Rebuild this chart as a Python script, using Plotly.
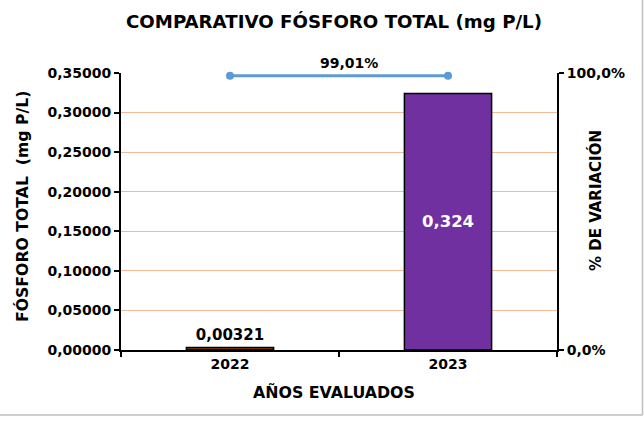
import plotly.graph_objects as go

years = ["2022", "2023"]
fosforo = [0.00321, 0.324]
bar_labels = ["0,00321", "0,324"]
variacion = [0.9901, 0.9901]
variacion_label = "99,01%"
left_ticks = [0, 0.05, 0.10, 0.15, 0.20, 0.25, 0.30, 0.35]
right_ticks = [0, 1]
right_ticktext = ["0,0%", "100,0%"]

FONT = "DejaVu Sans, Verdana, sans-serif"
W, H = 644, 424
ml, mr, mt, mb = 121, 87, 73, 74

def bold(size, color="#000000"):
    return dict(family=FONT, size=size, color=color, weight="bold")

fig = go.Figure()
fig.add_trace(go.Bar(
    x=years, y=fosforo, width=0.4,
    marker=dict(color=["#843C0C", "#7030A0"], line=dict(color="#000000", width=1.5)),
    text=bar_labels, textposition=["outside", "inside"], insidetextanchor="middle",
    textfont=dict(family=FONT, size=[15, 16.5], color=["#000000", "#FFFFFF"], weight="bold"),
    cliponaxis=False, showlegend=False, hoverinfo="skip",
))
fig.add_trace(go.Scatter(
    x=years, y=variacion, yaxis="y2", mode="lines+markers",
    line=dict(color="#5B9BD5", width=3), marker=dict(size=8, color="#5B9BD5"),
    showlegend=False, hoverinfo="skip", cliponaxis=False,
))
fig.add_annotation(x=0.5, xref="x", y=variacion[0], yref="y2", text=variacion_label,
                   showarrow=False, yanchor="bottom", yshift=3, xshift=10, font=bold(14))

fig.update_layout(
    width=W, height=H,
    margin=dict(l=ml, r=mr, t=mt, b=mb, autoexpand=False),
    paper_bgcolor="#FFFFFF", plot_bgcolor="#FFFFFF",
    separators=",.",
    font=bold(14),
    title=dict(text="COMPARATIVO FÓSFORO TOTAL (mg P/L)", x=334 / W, xanchor="center",
               y=1 - 22 / H, yanchor="middle", font=bold(18.2)),
    xaxis=dict(type="category", tickson="boundaries", ticks="outside", ticklen=5, tickwidth=2,
               tickcolor="#000000", showline=True, linecolor="#000000", linewidth=2,
               showgrid=False, tickfont=bold(14), automargin=False),
    yaxis=dict(range=[0, 0.35], tickvals=left_ticks, tickformat=".5f", ticks="outside", ticklen=5,
               tickwidth=2, tickcolor="#000000", showline=True, linecolor="#000000", linewidth=2,
               showgrid=True, gridcolor="#F4B996", gridwidth=1, zeroline=False,
               tickfont=bold(14), automargin=False),
    yaxis2=dict(range=[0, 1], overlaying="y", side="right", tickvals=right_ticks, ticktext=right_ticktext,
                ticks="outside", ticklen=5, tickwidth=2, tickcolor="#000000", showline=True,
                linecolor="#000000", linewidth=2, showgrid=False, zeroline=False,
                tickfont=bold(14), automargin=False),
)

pw = W - ml - mr
ph = H - mt - mb
def px_x(p):
    return (p - ml) / pw
def px_y(p):
    return (H - mb - p) / ph

# axis titles
fig.add_annotation(xref="paper", yref="paper", x=px_x(22), y=px_y(207), text="FÓSFORO TOTAL  (mg P/L)",
                   textangle=-90, showarrow=False, xanchor="center", yanchor="middle", font=bold(15.7))
fig.add_annotation(xref="paper", yref="paper", x=px_x(595), y=px_y(201), text="% DE VARIACIÓN",
                   textangle=-90, showarrow=False, xanchor="center", yanchor="middle", font=bold(15))
fig.add_annotation(xref="paper", yref="paper", x=px_x(334), y=px_y(392), text="AÑOS EVALUADOS",
                   showarrow=False, xanchor="center", yanchor="middle", font=bold(15.8))

fig.add_shape(type="line", xref="paper", yref="paper", x0=px_x(642.5), x1=px_x(642.5),
              y0=px_y(0), y1=px_y(415), line=dict(color="#BFBFBF", width=1.5))
fig.add_shape(type="line", xref="paper", yref="paper", x0=px_x(0), x1=px_x(642.5),
              y0=px_y(415), y1=px_y(415), line=dict(color="#BFBFBF", width=1.5))

fig.write_html("out.html", config={"displayModeBar": False},
               post_script="document.body.style.margin='0';document.body.style.overflow='hidden';")
